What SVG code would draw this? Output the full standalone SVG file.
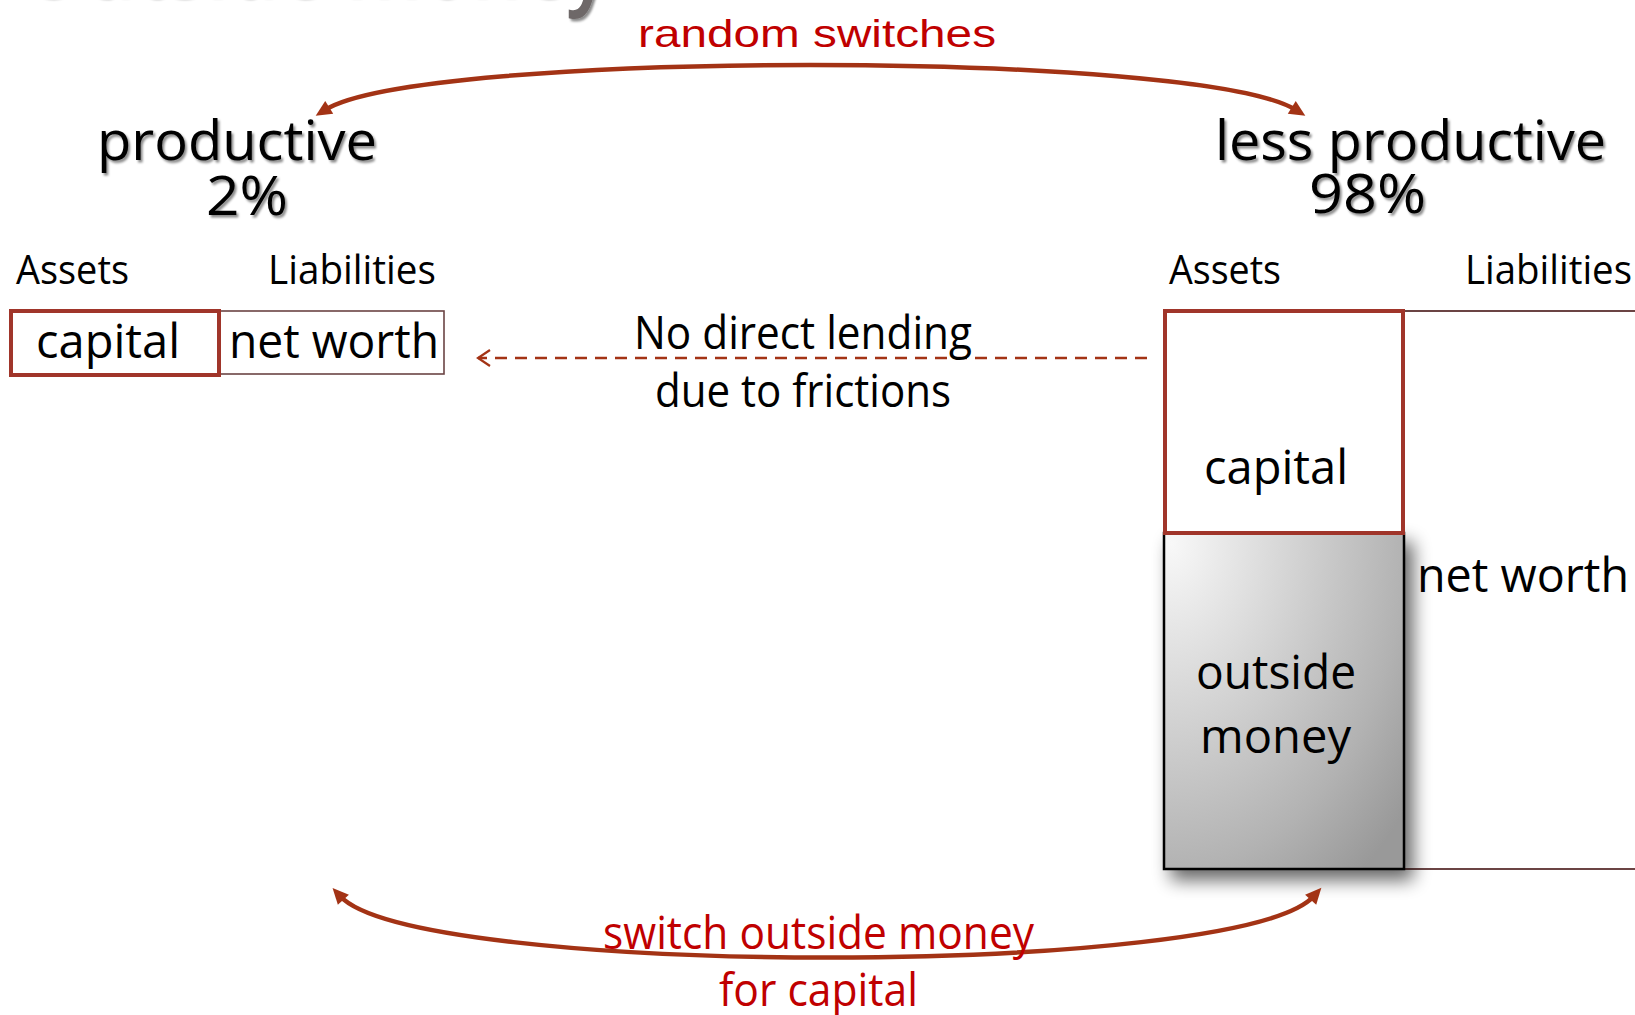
<svg xmlns="http://www.w3.org/2000/svg" width="1635" height="1015" viewBox="0 0 1635 1015">
  <style>
    .t { font-family: 'Open Sans', 'Noto Sans', sans-serif; fill: #000; }
    .hd { font-size: 54px; filter: url(#txtShadow); }
    .lbl { font-size: 41px; }
    .cell { font-size: 48px; }
    .note { font-size: 45px; }
    .red { fill: #c00000; }
    .arc { fill: none; stroke: #a33315; stroke-width: 4.5; marker-start: url(#head); marker-end: url(#head); }
    .dash { fill: none; stroke: #a33315; stroke-width: 2.5; stroke-dasharray: 12 8; marker-end: url(#chevron); }
    .redbox { fill: #fff; stroke: #a0352a; stroke-width: 4; }
    .thin { fill: #fff; stroke: #6b4444; stroke-width: 1.6; }
  </style>
  <defs>
    <filter id="txtShadow" x="-10%" y="-20%" width="125%" height="150%">
      <feDropShadow dx="2" dy="2.5" stdDeviation="1.3" flood-color="#000" flood-opacity="0.45"/>
    </filter>
    <filter id="boxShadow" x="-20%" y="-15%" width="160%" height="140%">
      <feGaussianBlur in="SourceAlpha" stdDeviation="9"/>
      <feOffset dx="8" dy="10" result="b"/>
      <feComponentTransfer><feFuncA type="linear" slope="0.6"/></feComponentTransfer>
      <feMerge><feMergeNode/><feMergeNode in="SourceGraphic"/></feMerge>
    </filter>
    <radialGradient id="moneyFill" cx="0" cy="0" r="1.3" fx="0.03" fy="0.03">
      <stop offset="0" stop-color="#f8f8f8"/>
      <stop offset="0.77" stop-color="#b2b2b2"/>
      <stop offset="1" stop-color="#999"/>
    </radialGradient>
    <marker id="head" markerUnits="userSpaceOnUse" markerWidth="18" markerHeight="16" refX="5" refY="7.5" orient="auto-start-reverse" overflow="visible">
      <path d="M0,0 L16,7.5 L0,15 Z" fill="#a33315"/>
    </marker>
    <marker id="chevron" markerUnits="userSpaceOnUse" markerWidth="16" markerHeight="20" refX="12" refY="8" orient="auto" overflow="visible">
      <path d="M0,0 L12,8 L0,16" fill="none" stroke="#a33315" stroke-width="2.2"/>
    </marker>
  </defs>

  <rect width="1635" height="1015" fill="#fff"/>

  <!-- slide title, mostly above the top edge -->
  <g id="title">
    <text x="20" y="-4" font-family="'Open Sans', 'Noto Sans', sans-serif" font-size="95" font-weight="600" fill="#6e6868" textLength="590" lengthAdjust="spacingAndGlyphs" filter="url(#txtShadow)">Outside money</text>
  </g>

  <!-- group headers -->
  <g id="productive-header">
    <text class="t hd" x="97" y="160" textLength="280" lengthAdjust="spacingAndGlyphs">productive</text>
    <text class="t hd" x="206" y="215" textLength="82" lengthAdjust="spacingAndGlyphs">2%</text>
  </g>
  <g id="less-productive-header">
    <text class="t hd" x="1215" y="160" textLength="391" lengthAdjust="spacingAndGlyphs">less productive</text>
    <text class="t hd" x="1309" y="213" textLength="117" lengthAdjust="spacingAndGlyphs">98%</text>
  </g>

  <!-- balance sheet of the productive agents -->
  <g id="productive-sheet">
    <text class="t lbl" x="16" y="284" textLength="113" lengthAdjust="spacingAndGlyphs">Assets</text>
    <text class="t lbl" x="268" y="284" textLength="168" lengthAdjust="spacingAndGlyphs">Liabilities</text>
    <rect class="thin" x="219" y="311" width="225" height="63"/>
    <rect class="redbox" x="11" y="311" width="208" height="64"/>
    <text class="t cell" x="36" y="358" textLength="144" lengthAdjust="spacingAndGlyphs">capital</text>
    <text class="t cell" x="229" y="358" textLength="210" lengthAdjust="spacingAndGlyphs">net worth</text>
  </g>

  <!-- balance sheet of the less productive agents -->
  <g id="less-productive-sheet">
    <text class="t lbl" x="1169" y="284" textLength="112" lengthAdjust="spacingAndGlyphs">Assets</text>
    <text class="t lbl" x="1465" y="284" textLength="167" lengthAdjust="spacingAndGlyphs">Liabilities</text>
    <rect x="1403" y="311" width="260" height="558" fill="#fff" stroke="#6b4444" stroke-width="2"/>
    <text class="t cell" x="1417" y="592" textLength="212" lengthAdjust="spacingAndGlyphs">net worth</text>
    <g id="outside-money" filter="url(#boxShadow)">
      <rect x="1164" y="533" width="240" height="336" fill="url(#moneyFill)" stroke="#000" stroke-width="2.5"/>
    </g>
    <text class="t cell" x="1196" y="689" textLength="160" lengthAdjust="spacingAndGlyphs">outside</text>
    <text class="t cell" x="1200" y="753" textLength="151" lengthAdjust="spacingAndGlyphs">money</text>
    <rect class="redbox" x="1165" y="311" width="238" height="222"/>
    <text class="t cell" x="1204" y="484" textLength="144" lengthAdjust="spacingAndGlyphs">capital</text>
  </g>

  <!-- connectors -->
  <g id="connectors">
    <path class="arc" d="M325,110 C420,50 1200,50 1296,110"/>
    <path class="dash" d="M1147,358 L478,358"/>
    <path class="arc" d="M340,896 C415,978 1240,978 1314,896"/>
  </g>

  <!-- connector labels -->
  <g id="label-random">
    <text x="638" y="47" font-family="'Liberation Sans', Arial, sans-serif" font-size="39" fill="#c00000" textLength="358" lengthAdjust="spacingAndGlyphs">random switches</text>
  </g>
  <g id="label-no-lending">
    <text class="t note" x="634" y="349" textLength="338" lengthAdjust="spacingAndGlyphs">No direct lending</text>
    <text class="t note" x="655" y="407" textLength="296" lengthAdjust="spacingAndGlyphs">due to frictions</text>
  </g>
  <g id="label-switch">
    <text class="t note red" x="603" y="949" textLength="431" lengthAdjust="spacingAndGlyphs">switch outside money</text>
    <text class="t note red" x="719" y="1006" textLength="199" lengthAdjust="spacingAndGlyphs">for capital</text>
  </g>
</svg>
